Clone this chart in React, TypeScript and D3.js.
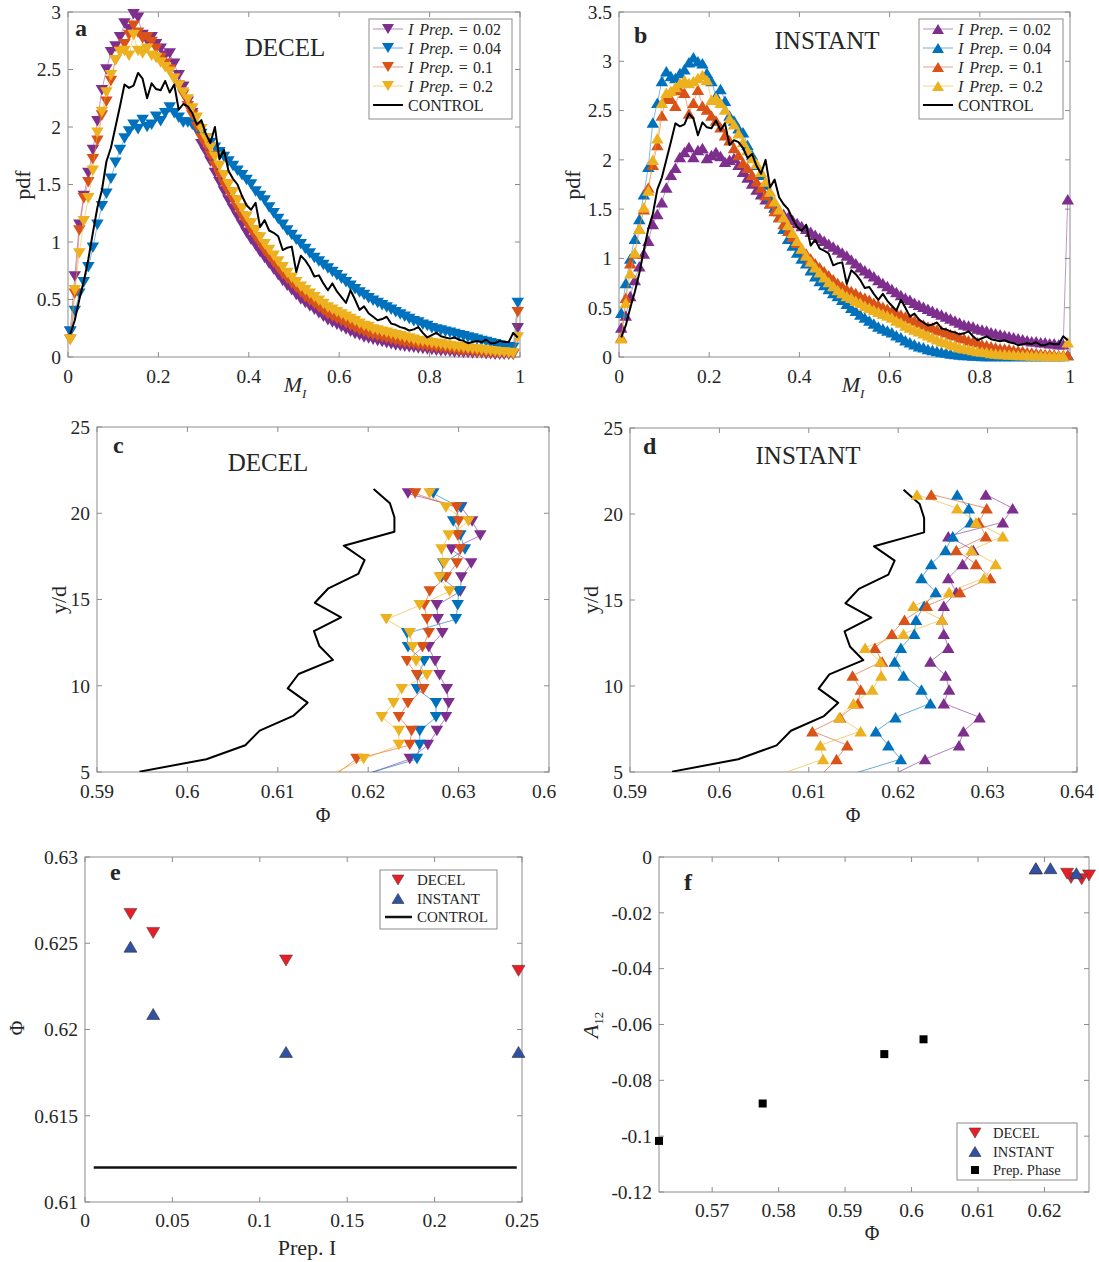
import React from "react";
import * as d3 from "d3";

// ---------------- shared styling ----------------
const FONT = "'Liberation Serif', 'Times New Roman', Times, serif";
const AXIS = "#8c8c8c";
const INK = "#262626";

// ---------------- panels a / b : pdf of M_I ----------------
// histogram bin centres on [0, 1]
const M_BINS = d3.range(100).map((i) => (i + 0.5) / 100);
const PREP_LABELS = ["0.02", "0.04", "0.1", "0.2"];
const SERIES_COLORS = ["#7E2F8E", "#0072BD", "#D95319", "#EDB120"];
const PDF_X_TICKS = [0, 0.2, 0.4, 0.6, 0.8, 1];
const PDF_A_Y_TICKS = [0, 0.5, 1, 1.5, 2, 2.5, 3];
const PDF_B_Y_TICKS = [0, 0.5, 1, 1.5, 2, 2.5, 3, 3.5];

const DECEL_PDF_002 = [
  0.22, 0.7, 1.15, 1.4, 1.6, 1.8, 2.05, 2.32, 2.5, 2.65,
  2.7, 2.78, 2.9, 2.85, 2.98, 2.95, 2.8, 2.75, 2.78, 2.72,
  2.68, 2.62, 2.64, 2.55, 2.45, 2.35, 2.22, 2.12, 1.97, 1.85,
  1.78, 1.7, 1.6, 1.52, 1.44, 1.36, 1.29, 1.22, 1.15, 1.08,
  1.02, 0.97, 0.91, 0.86, 0.81, 0.76, 0.71, 0.66, 0.62, 0.58,
  0.54, 0.5, 0.47, 0.44, 0.41, 0.38, 0.35, 0.32, 0.3, 0.28,
  0.26, 0.24, 0.22, 0.2, 0.19, 0.17, 0.16, 0.15, 0.14, 0.13,
  0.12, 0.11, 0.1, 0.095, 0.09, 0.085, 0.08, 0.075, 0.07, 0.065,
  0.06, 0.055, 0.05, 0.05, 0.045, 0.04, 0.04, 0.035, 0.035, 0.03,
  0.03, 0.03, 0.025, 0.025, 0.02, 0.02, 0.02, 0.02, 0.02, 0.25,
];
const DECEL_PDF_004 = [
  0.22, 0.4, 0.55, 0.65, 0.78, 0.95, 1.15, 1.31, 1.42, 1.55,
  1.69, 1.8, 1.9, 1.96, 2.02, 1.98, 2.06, 2.0, 2.02, 2.09,
  2.05, 2.12, 2.17, 2.12, 2.08, 2.04, 2.04, 2.02, 1.98, 1.94,
  1.9, 1.86, 1.82, 1.78, 1.74, 1.7, 1.66, 1.62, 1.58, 1.54,
  1.5, 1.44, 1.4, 1.36, 1.3, 1.25, 1.2, 1.15, 1.1, 1.06,
  1.02, 0.98, 0.94, 0.9, 0.86, 0.83, 0.8, 0.77, 0.74, 0.71,
  0.68, 0.65, 0.62, 0.59, 0.56, 0.54, 0.51, 0.49, 0.47, 0.45,
  0.43, 0.41, 0.39, 0.37, 0.35, 0.33, 0.31, 0.3, 0.28, 0.27,
  0.25, 0.24, 0.23, 0.22, 0.21, 0.2, 0.19, 0.18, 0.17, 0.16,
  0.15, 0.14, 0.13, 0.12, 0.11, 0.1, 0.09, 0.085, 0.08, 0.47,
];
const DECEL_PDF_01 = [
  0.15, 0.55, 1.1, 1.38, 1.52, 1.72, 1.88, 2.1, 2.22, 2.4,
  2.58, 2.66, 2.72, 2.8, 2.88, 2.82, 2.77, 2.78, 2.74, 2.68,
  2.6, 2.55, 2.5, 2.42, 2.36, 2.28, 2.18, 2.1, 2.0, 1.9,
  1.84, 1.75, 1.66, 1.58, 1.5, 1.43, 1.36, 1.29, 1.22, 1.16,
  1.1, 1.04, 0.98, 0.92, 0.87, 0.82, 0.77, 0.72, 0.68, 0.64,
  0.6, 0.56, 0.52, 0.49, 0.46, 0.43, 0.4, 0.37, 0.35, 0.33,
  0.31, 0.29, 0.27, 0.25, 0.23, 0.22, 0.2, 0.19, 0.18, 0.17,
  0.16, 0.15, 0.14, 0.13, 0.12, 0.115, 0.11, 0.1, 0.095, 0.09,
  0.085, 0.08, 0.075, 0.07, 0.065, 0.06, 0.055, 0.05, 0.05, 0.045,
  0.04, 0.04, 0.035, 0.035, 0.03, 0.03, 0.03, 0.025, 0.025, 0.39,
];
const DECEL_PDF_02 = [
  0.15, 0.58, 0.9, 1.18, 1.38, 1.62, 1.95, 2.13, 2.3, 2.45,
  2.58, 2.65, 2.66, 2.62, 2.8, 2.66, 2.64, 2.68, 2.62, 2.6,
  2.56, 2.52, 2.48, 2.42, 2.36, 2.3, 2.24, 2.16, 2.08, 1.98,
  1.9, 1.82, 1.74, 1.66, 1.58, 1.5, 1.43, 1.36, 1.29, 1.22,
  1.16, 1.1, 1.04, 0.98, 0.93, 0.88, 0.83, 0.78, 0.73, 0.69,
  0.65, 0.61, 0.58, 0.55, 0.52, 0.49, 0.46, 0.43, 0.41, 0.39,
  0.37, 0.35, 0.33, 0.31, 0.29, 0.27, 0.26, 0.24, 0.23, 0.22,
  0.21, 0.2, 0.19, 0.18, 0.17, 0.16, 0.15, 0.14, 0.135, 0.13,
  0.12, 0.115, 0.11, 0.1, 0.095, 0.09, 0.085, 0.08, 0.075, 0.07,
  0.065, 0.06, 0.055, 0.05, 0.045, 0.04, 0.04, 0.035, 0.03, 0.17,
];
const INSTANT_PDF_002 = [
  0.3, 0.42, 0.62, 0.78, 0.92, 1.05, 1.18, 1.35, 1.45, 1.57,
  1.72, 1.85, 1.92, 2.03, 2.08, 2.13, 2.03, 2.1, 2.12, 2.02,
  2.05, 2.08, 2.04, 1.98, 2.0, 2.02, 1.95, 1.88, 1.82, 1.76,
  1.7, 1.65, 1.6, 1.56, 1.52, 1.48, 1.45, 1.42, 1.39, 1.36,
  1.33, 1.3, 1.27, 1.24, 1.21, 1.18, 1.15, 1.12, 1.09, 1.06,
  1.03, 0.99, 0.95, 0.91, 0.88, 0.85, 0.82, 0.78, 0.75, 0.72,
  0.69, 0.66, 0.63, 0.6, 0.58, 0.55, 0.53, 0.51, 0.49, 0.47,
  0.45, 0.43, 0.41, 0.39, 0.37, 0.35, 0.33, 0.32, 0.31, 0.29,
  0.28, 0.27, 0.25, 0.24, 0.23, 0.22, 0.21, 0.2, 0.19, 0.18,
  0.17, 0.16, 0.16, 0.15, 0.15, 0.14, 0.14, 0.13, 0.13, 1.6,
];
const INSTANT_PDF_004 = [
  0.45, 0.75, 1.0, 1.2, 1.4, 1.65, 1.93, 2.38, 2.58, 2.8,
  2.9, 2.85, 2.83, 2.88, 2.92, 2.99, 3.04, 3.0, 2.98, 2.88,
  2.8, 2.65, 2.72, 2.6, 2.45, 2.4, 2.32, 2.28, 2.15, 2.05,
  1.95, 1.85, 1.75, 1.62, 1.52, 1.42, 1.3, 1.2, 1.13, 1.06,
  1.0, 0.95, 0.88, 0.82, 0.77, 0.73, 0.69, 0.65, 0.62, 0.58,
  0.54, 0.5, 0.47, 0.43, 0.4, 0.37, 0.34, 0.31, 0.29, 0.27,
  0.25, 0.22, 0.2, 0.17, 0.15, 0.13, 0.11, 0.1, 0.08, 0.07,
  0.06, 0.05, 0.045, 0.035, 0.03, 0.025, 0.02, 0.02, 0.015, 0.015,
  0.01, 0.01, 0.01, 0.01, 0.01, 0.01, 0.01, 0.01, 0.01, 0.01,
  0.01, 0.01, 0.01, 0.01, 0.01, 0.01, 0.01, 0.01, 0.01, 0.02,
];
const INSTANT_PDF_01 = [
  0.2, 0.6, 0.95, 1.05, 1.3, 1.5, 1.72, 1.95, 2.15, 2.45,
  2.63, 2.62, 2.55, 2.71, 2.68, 2.47, 2.58, 2.71, 2.55, 2.51,
  2.45, 2.4, 2.33, 2.25, 2.2, 2.12, 2.05, 1.97, 1.92, 1.85,
  1.78, 1.72, 1.64, 1.56, 1.48, 1.42, 1.35, 1.28, 1.22, 1.16,
  1.1, 1.05, 1.0, 0.95, 0.91, 0.87, 0.83, 0.79, 0.75, 0.72,
  0.69, 0.67, 0.65, 0.62, 0.6, 0.58, 0.55, 0.53, 0.51, 0.49,
  0.47, 0.45, 0.43, 0.41, 0.39, 0.37, 0.35, 0.33, 0.31, 0.3,
  0.28, 0.27, 0.25, 0.23, 0.22, 0.2, 0.19, 0.17, 0.16, 0.15,
  0.13, 0.12, 0.11, 0.1, 0.09, 0.085, 0.08, 0.07, 0.065, 0.06,
  0.05, 0.045, 0.04, 0.035, 0.03, 0.03, 0.025, 0.02, 0.02, 0.02,
];
const INSTANT_PDF_02 = [
  0.19, 0.55, 0.85, 1.06, 1.3, 1.52, 1.69, 2.0, 2.22, 2.58,
  2.68, 2.7, 2.74, 2.78, 2.81, 2.78, 2.8, 2.83, 2.86, 2.81,
  2.61, 2.63, 2.58, 2.51, 2.42, 2.36, 2.27, 2.18, 2.1, 2.02,
  1.96, 1.88, 1.78, 1.68, 1.58, 1.5, 1.42, 1.34, 1.26, 1.18,
  1.1, 1.03, 0.97, 0.91, 0.86, 0.81, 0.76, 0.72, 0.68, 0.65,
  0.62, 0.6, 0.57, 0.55, 0.52, 0.5, 0.48, 0.46, 0.44, 0.42,
  0.4, 0.37, 0.35, 0.32, 0.3, 0.28, 0.26, 0.24, 0.22, 0.2,
  0.18, 0.16, 0.15, 0.13, 0.12, 0.1, 0.09, 0.08, 0.07, 0.06,
  0.055, 0.05, 0.04, 0.035, 0.03, 0.03, 0.025, 0.025, 0.02, 0.02,
  0.02, 0.015, 0.015, 0.015, 0.01, 0.01, 0.01, 0.01, 0.01, 0.15,
];
const CONTROL_PDF = [
  0.2, 0.32, 0.5, 0.66, 0.85, 1.08, 1.3, 1.45, 1.7, 1.82,
  2.0, 2.18, 2.37, 2.34, 2.36, 2.47, 2.42, 2.25, 2.38, 2.33,
  2.32, 2.4, 2.3, 2.37, 2.15, 2.2, 2.18, 2.12, 2.02, 2.06,
  1.94, 1.86, 2.0, 1.72, 1.8, 1.62, 1.55, 1.5, 1.4, 1.32,
  1.28, 1.34, 1.13, 1.19, 1.1, 1.08, 1.05, 0.93, 0.95, 0.96,
  0.74, 0.88, 0.84, 0.78, 0.7, 0.71, 0.64, 0.58, 0.64, 0.57,
  0.52, 0.47, 0.58, 0.5, 0.41, 0.44, 0.38, 0.35, 0.32, 0.33,
  0.35, 0.29, 0.28, 0.26, 0.25, 0.23, 0.24, 0.26, 0.21, 0.17,
  0.19, 0.21, 0.18, 0.17, 0.16, 0.17, 0.15, 0.14, 0.12, 0.13,
  0.14, 0.13, 0.15, 0.12, 0.12, 0.14, 0.13, 0.13, 0.21, 0.17,
];

// ---------------- panels c / d : Phi profiles over y/d ----------------
const PHI_TICKS = [0.59, 0.6, 0.61, 0.62, 0.63, 0.64];
const YD_TICKS = [5, 10, 15, 20, 25];
const RUN_YD = [4.94, 5.75, 6.56, 7.37, 8.18, 8.99, 9.8, 10.61, 11.42, 12.23, 13.04, 13.85, 14.66, 15.47, 16.28, 17.09, 17.9, 18.71, 19.52, 20.33, 21.14];
const CONTROL_YD = [5.02, 5.74, 6.55, 7.4, 8.25, 9.02, 9.85, 10.68, 11.5, 12.3, 13.17, 13.97, 14.81, 15.65, 16.48, 17.29, 18.12, 18.93, 19.77, 20.58, 21.41];
const CONTROL_PHI = [0.5947, 0.6021, 0.6064, 0.608, 0.6117, 0.6133, 0.6111, 0.6123, 0.6161, 0.6146, 0.614, 0.617, 0.6141, 0.6156, 0.6189, 0.6196, 0.6173, 0.6229, 0.6229, 0.6224, 0.6206];

const DECEL_PHI_002 = [0.6202, 0.6246, 0.6266, 0.6276, 0.6286, 0.6289, 0.6287, 0.6279, 0.6274, 0.6267, 0.6282, 0.6277, 0.6276, 0.6302, 0.6303, 0.6314, 0.6292, 0.6324, 0.6315, 0.6303, 0.6244];
const DECEL_PHI_004 = [0.6201, 0.6254, 0.6257, 0.6257, 0.6275, 0.6275, 0.6254, 0.6255, 0.6262, 0.6244, 0.6243, 0.6297, 0.6299, 0.63, 0.6281, 0.6283, 0.6307, 0.6302, 0.6294, 0.6302, 0.6272];
const DECEL_PHI_01 = [0.6166, 0.6187, 0.6246, 0.6248, 0.6234, 0.6244, 0.6261, 0.6254, 0.6243, 0.626, 0.6267, 0.6265, 0.6262, 0.6268, 0.6286, 0.6298, 0.6302, 0.6299, 0.63, 0.6298, 0.6252];
const DECEL_PHI_02 = [0.6162, 0.6195, 0.6234, 0.6234, 0.6215, 0.6228, 0.6237, 0.6265, 0.6253, 0.6249, 0.6246, 0.622, 0.6257, 0.629, 0.6279, 0.6284, 0.6281, 0.6289, 0.6311, 0.6286, 0.6268];

const INSTANT_PHI_002 = [0.6198, 0.623, 0.6268, 0.6273, 0.6291, 0.6251, 0.6257, 0.6253, 0.6236, 0.6256, 0.6251, 0.6249, 0.6251, 0.6265, 0.6256, 0.6272, 0.6284, 0.6256, 0.6317, 0.6328, 0.6298];
const INSTANT_PHI_004 = [0.6152, 0.6203, 0.6189, 0.6175, 0.6197, 0.6236, 0.6226, 0.6206, 0.6196, 0.6203, 0.6218, 0.622, 0.6229, 0.6242, 0.6226, 0.6237, 0.6253, 0.6261, 0.6281, 0.6279, 0.6266];
const INSTANT_PHI_01 = [0.6116, 0.6131, 0.6143, 0.6104, 0.6135, 0.6155, 0.6158, 0.6149, 0.6182, 0.6174, 0.6193, 0.6207, 0.6232, 0.6269, 0.6303, 0.6287, 0.6265, 0.6298, 0.629, 0.6299, 0.6237];
const INSTANT_PHI_02 = [0.6072, 0.6116, 0.6113, 0.6158, 0.6134, 0.615, 0.6171, 0.6181, 0.618, 0.6163, 0.6206, 0.6249, 0.6217, 0.6257, 0.6296, 0.6309, 0.6282, 0.6317, 0.6287, 0.6266, 0.6221];

// ---------------- panel e : mean Phi vs preparation inertial number ----------------
const PREP_I = [0.026, 0.039, 0.115, 0.248];
const E_DECEL_PHI = [0.6267, 0.6256, 0.624, 0.6234];
const E_INSTANT_PHI = [0.6248, 0.6209, 0.6187, 0.6187];
const E_CONTROL_I = [0.005, 0.247];
const E_CONTROL_PHI = [0.612, 0.612];
const E_X_TICKS = [0, 0.05, 0.1, 0.15, 0.2, 0.25];
const E_Y_TICKS = [0.61, 0.615, 0.62, 0.625, 0.63];

// ---------------- panel f : A12 vs Phi ----------------
const F_DECEL_PHI = [0.6267, 0.6256, 0.624, 0.6234];
const F_DECEL_A = [-0.0066, -0.008, -0.0075, -0.006];
const F_INSTANT_PHI = [0.6248, 0.6209, 0.6187, 0.6187];
const F_INSTANT_A = [-0.0058, -0.004, -0.0041, -0.004];
const F_PREP_PHI = [0.562, 0.5776, 0.5959, 0.6018];
const F_PREP_A = [-0.1017, -0.0883, -0.0706, -0.0653];
const F_X_TICKS = [0.57, 0.58, 0.59, 0.6, 0.61, 0.62];
const F_Y_TICKS = [-0.12, -0.1, -0.08, -0.06, -0.04, -0.02, 0];

const RED = "#EA1C24";
const NAVY = "#3151A4";

type Scale = d3.ScaleLinear<number, number>;

const fmtTick = (v: number) => String(Math.round(v * 10000) / 10000);

function tri(cx: number, cy: number, w: number, h: number, down: boolean) {
  const hw = w / 2;
  const hh = h / 2;
  return down
    ? `M${cx - hw},${cy - hh}L${cx + hw},${cy - hh}L${cx},${cy + hh}Z`
    : `M${cx - hw},${cy + hh}L${cx + hw},${cy + hh}L${cx},${cy - hh}Z`;
}

function Frame({ x, y, xTicks, yTicks, xGap = 26 }: { x: Scale; y: Scale; xTicks: number[]; yTicks: number[]; xGap?: number }) {
  const [l, r] = x.range();
  const [b, t] = y.range();
  const tl = 5;
  return (
    <g>
      <rect x={l} y={t} width={r - l} height={b - t} fill="#fff" stroke={AXIS} strokeWidth={1} />
      {xTicks.map((v) => (
        <g key={`xt${v}`} stroke={AXIS}>
          <line x1={x(v)} x2={x(v)} y1={b} y2={b - tl} />
          <line x1={x(v)} x2={x(v)} y1={t} y2={t + tl} />
        </g>
      ))}
      {yTicks.map((v) => (
        <g key={`yt${v}`} stroke={AXIS}>
          <line x1={l} x2={l + tl} y1={y(v)} y2={y(v)} />
          <line x1={r} x2={r - tl} y1={y(v)} y2={y(v)} />
        </g>
      ))}
      <g fontSize={19.5} fill={INK} fontFamily={FONT}>
        {xTicks.map((v) => (
          <text key={`xl${v}`} x={x(v)} y={b + xGap} textAnchor="middle">
            {fmtTick(v)}
          </text>
        ))}
        {yTicks.map((v) => (
          <text key={`yl${v}`} x={l - 7} y={y(v)} dy="0.35em" textAnchor="end">
            {fmtTick(v)}
          </text>
        ))}
      </g>
    </g>
  );
}

function PrepLegendText({ x, y, label }: { x: number; y: number; label: string }) {
  return (
    <text x={x} y={y} dy="0.35em" fontSize={16} fill={INK}>
      <tspan fontStyle="italic">I</tspan>
      <tspan dx={6} fontStyle="italic">Prep.</tspan>
      <tspan dx={5}>=</tspan>
      <tspan dx={5}>{label}</tspan>
    </text>
  );
}

interface PdfProps {
  x0: number; x1: number; y0: number; y1: number;
  yMax: number; yTicks: number[];
  series: number[][]; control: number[]; down: boolean;
  letter: string; letterX: number; letterY: number;
  title: string; titleX: number; titleY: number;
  legX: number; legY: number; legW: number; legH: number;
  ylabX: number; xlabX: number;
}

function PdfPanel(p: PdfProps) {
  const x = d3.scaleLinear().domain([0, 1]).range([p.x0, p.x1]);
  const y = d3.scaleLinear().domain([0, p.yMax]).range([p.y1, p.y0]);
  const line = d3.line<number>().x((_, i) => x(M_BINS[i])).y((v) => y(v));
  const rows = [0, 1, 2, 3, 4].map((i) => p.legY + 10 + i * 19);
  return (
    <g>
      <Frame x={x} y={y} xTicks={PDF_X_TICKS} yTicks={p.yTicks} />
      {p.series.map((s, k) => (
        <g key={k}>
          <path d={line(s) || ""} fill="none" stroke={SERIES_COLORS[k]} strokeWidth={0.7} strokeOpacity={0.7} />
          {s.map((v, i) => (
            <path key={i} d={tri(x(M_BINS[i]), y(v), 12.5, 10.5, p.down)} fill={SERIES_COLORS[k]} />
          ))}
        </g>
      ))}
      <path d={line(p.control) || ""} fill="none" stroke="#000" strokeWidth={2} strokeLinejoin="round" />
      <text x={p.letterX} y={p.letterY} fontSize={24} fontWeight="bold" fill={INK}>{p.letter}</text>
      <text x={p.titleX} y={p.titleY} fontSize={25} textAnchor="middle" fill={INK}>{p.title}</text>
      <text transform={`translate(${p.ylabX},185) rotate(-90)`} fontSize={22} textAnchor="middle" dy="0.35em" fill={INK}>pdf</text>
      <text x={p.xlabX} y={392} fontSize={22} fill={INK} textAnchor="middle">
        <tspan fontStyle="italic">M</tspan>
        <tspan fontStyle="italic" fontSize={13} dy={6}>I</tspan>
      </text>
      <rect x={p.legX} y={p.legY} width={p.legW} height={p.legH} fill="#fff" stroke={AXIS} />
      {PREP_LABELS.map((lab, k) => (
        <g key={lab}>
          <line x1={p.legX + 4} x2={p.legX + 34} y1={rows[k]} y2={rows[k]} stroke={SERIES_COLORS[k]} strokeWidth={0.8} strokeOpacity={0.7} />
          <path d={tri(p.legX + 19, rows[k], 12, 10, p.down)} fill={SERIES_COLORS[k]} />
          <PrepLegendText x={p.legX + 39} y={rows[k]} label={lab} />
        </g>
      ))}
      <line x1={p.legX + 4} x2={p.legX + 34} y1={rows[4]} y2={rows[4]} stroke="#000" strokeWidth={2} />
      <text x={p.legX + 39} y={rows[4]} dy="0.35em" fontSize={16} fill={INK}>CONTROL</text>
    </g>
  );
}

interface ProfileProps {
  id: string;
  x0: number; x1: number; y0: number; y1: number;
  series: number[][]; down: boolean;
  letter: string; letterX: number; letterY: number;
  title: string; titleX: number; titleY: number;
  ylabX: number; phiX: number; clipRight?: number;
}

function ProfilePanel(p: ProfileProps) {
  const x = d3.scaleLinear().domain([0.59, 0.64]).range([p.x0, p.x1]);
  const y = d3.scaleLinear().domain([5, 25]).range([p.y1, p.y0]);
  const runLine = d3.line<number>().x((v) => x(v)).y((_, i) => y(RUN_YD[i]));
  const ctrlLine = d3.line<number>().x((v) => x(v)).y((_, i) => y(CONTROL_YD[i]));
  return (
    <g>
      <defs>
        <clipPath id={`${p.id}-plot`}>
          <rect x={p.x0} y={p.y0} width={p.x1 - p.x0} height={p.y1 - p.y0} />
        </clipPath>
        {p.clipRight !== undefined && (
          <clipPath id={`${p.id}-frame`}>
            <rect x={0} y={p.y0 - 20} width={p.clipRight} height={p.y1 - p.y0 + 80} />
          </clipPath>
        )}
      </defs>
      <g clipPath={p.clipRight !== undefined ? `url(#${p.id}-frame)` : undefined}>
        <Frame x={x} y={y} xTicks={PHI_TICKS} yTicks={YD_TICKS} />
      </g>
      <g clipPath={`url(#${p.id}-plot)`}>
        <path d={ctrlLine(CONTROL_PHI) || ""} fill="none" stroke="#000" strokeWidth={2} strokeLinejoin="round" />
        {p.series.map((s, k) => (
          <path key={k} d={runLine(s) || ""} fill="none" stroke={SERIES_COLORS[k]} strokeWidth={0.8} strokeOpacity={0.75} />
        ))}
      </g>
      {p.series.map((s, k) => (
        <g key={k} fill={SERIES_COLORS[k]}>
          {s.map((v, i) =>
            RUN_YD[i] >= 5 ? <path key={i} d={tri(x(v), y(RUN_YD[i]), 12.5, 10.5, p.down)} /> : null
          )}
        </g>
      ))}
      <text x={p.letterX} y={p.letterY} fontSize={24} fontWeight="bold" fill={INK}>{p.letter}</text>
      <text x={p.titleX} y={p.titleY} fontSize={25} textAnchor="middle" fill={INK}>{p.title}</text>
      <text transform={`translate(${p.ylabX},600) rotate(-90)`} fontSize={22} textAnchor="middle" dy="0.35em" fill={INK}>y/d</text>
      <text x={p.phiX} y={822} fontSize={20} textAnchor="middle" fill={INK}>Φ</text>
    </g>
  );
}

function PanelE() {
  const x = d3.scaleLinear().domain([0, 0.25]).range([85, 522]);
  const y = d3.scaleLinear().domain([0.61, 0.63]).range([1202, 857]);
  const ctrl = d3.line<number>().x((v) => x(v)).y((_, i) => y(E_CONTROL_PHI[i]));
  return (
    <g>
      <Frame x={x} y={y} xTicks={E_X_TICKS} yTicks={E_Y_TICKS} xGap={25} />
      {PREP_I.map((v, i) => (
        <path key={`d${i}`} d={tri(x(v), y(E_DECEL_PHI[i]), 13, 11, true)} fill={RED} stroke="#4a4a4a" strokeWidth={0.6} />
      ))}
      {PREP_I.map((v, i) => (
        <path key={`i${i}`} d={tri(x(v), y(E_INSTANT_PHI[i]), 13, 11, false)} fill={NAVY} stroke="#333" strokeWidth={0.6} />
      ))}
      <path d={ctrl(E_CONTROL_I) || ""} stroke="#111" strokeWidth={2.5} fill="none" />
      <text x={110} y={880} fontSize={24} fontWeight="bold" fill={INK}>e</text>
      <text transform="translate(17,1028) rotate(-90)" fontSize={20} textAnchor="middle" dy="0.35em" fill={INK}>Φ</text>
      <text x={307} y={1255} fontSize={22} textAnchor="middle" fill={INK}>Prep. I</text>
      <rect x={380} y={870} width={117} height={59} fill="#fff" stroke={AXIS} />
      <path d={tri(398, 880, 12, 10, true)} fill={RED} stroke="#4a4a4a" strokeWidth={0.6} />
      <path d={tri(398, 898.5, 12, 10, false)} fill={NAVY} stroke="#333" strokeWidth={0.6} />
      <line x1={385} x2={412} y1={917} y2={917} stroke="#111" strokeWidth={2.5} />
      <g fontSize={15} fill={INK}>
        <text x={417} y={880} dy="0.35em">DECEL</text>
        <text x={417} y={898.5} dy="0.35em">INSTANT</text>
        <text x={417} y={917} dy="0.35em">CONTROL</text>
      </g>
    </g>
  );
}

function PanelF() {
  const x = d3.scaleLinear().domain([0.562, 0.6267]).range([659, 1089]);
  const y = d3.scaleLinear().domain([-0.12, 0]).range([1192, 857]);
  return (
    <g>
      <Frame x={x} y={y} xTicks={F_X_TICKS} yTicks={F_Y_TICKS} xGap={25} />
      {F_DECEL_PHI.map((v, i) => (
        <path key={`d${i}`} d={tri(x(v), y(F_DECEL_A[i]), 13, 11, true)} fill={RED} stroke="#4a4a4a" strokeWidth={0.6} />
      ))}
      {F_INSTANT_PHI.map((v, i) => (
        <path key={`i${i}`} d={tri(x(v), y(F_INSTANT_A[i]), 13, 11, false)} fill={NAVY} stroke="#333" strokeWidth={0.6} />
      ))}
      {F_PREP_PHI.map((v, i) => (
        <rect key={`p${i}`} x={x(v) - 4} y={y(F_PREP_A[i]) - 4} width={8} height={8} fill="#000" />
      ))}
      <text x={684} y={890} fontSize={24} fontWeight="bold" fill={INK}>f</text>
      <text transform="translate(598,1025) rotate(-90)" fontSize={22} textAnchor="middle" fill={INK}>
        <tspan fontStyle="italic">A</tspan>
        <tspan fontSize={13} dy={5}>12</tspan>
      </text>
      <text x={872} y={1240} fontSize={20} textAnchor="middle" fill={INK}>Φ</text>
      <rect x={957} y={1123} width={120} height={57} fill="#fff" stroke={AXIS} />
      <path d={tri(975, 1133, 12, 10, true)} fill={RED} stroke="#4a4a4a" strokeWidth={0.6} />
      <path d={tri(975, 1151.5, 12, 10, false)} fill={NAVY} stroke="#333" strokeWidth={0.6} />
      <rect x={971} y={1166} width={8} height={8} fill="#000" />
      <g fontSize={14.5} fill={INK}>
        <text x={993} y={1133} dy="0.35em">DECEL</text>
        <text x={993} y={1151.5} dy="0.35em">INSTANT</text>
        <text x={993} y={1170} dy="0.35em">Prep. Phase</text>
      </g>
    </g>
  );
}

export default function App() {
  return (
    <svg
      width={1099}
      height={1262}
      viewBox="0 0 1099 1262"
      style={{ position: "absolute", left: 0, top: 0, display: "block" }}
      fontFamily={FONT}
    >
      <rect width={1099} height={1262} fill="#fff" />
      <PdfPanel
        x0={68} x1={520} y0={12} y1={357} yMax={3} yTicks={PDF_A_Y_TICKS}
        series={[DECEL_PDF_002, DECEL_PDF_004, DECEL_PDF_01, DECEL_PDF_02]}
        control={CONTROL_PDF} down={true}
        letter="a" letterX={75} letterY={36}
        title="DECEL" titleX={285} titleY={56}
        legX={369} legY={19} legW={143} legH={100}
        ylabX={22} xlabX={295}
      />
      <PdfPanel
        x0={619} x1={1070} y0={12} y1={357} yMax={3.5} yTicks={PDF_B_Y_TICKS}
        series={[INSTANT_PDF_002, INSTANT_PDF_004, INSTANT_PDF_01, INSTANT_PDF_02]}
        control={CONTROL_PDF} down={false}
        letter="b" letterX={634} letterY={43}
        title="INSTANT" titleX={827} titleY={49}
        legX={919} legY={19} legW={144} legH={100}
        ylabX={572} xlabX={853}
      />
      <ProfilePanel
        id="pc" x0={97} x1={549} y0={427} y1={772}
        series={[DECEL_PHI_002, DECEL_PHI_004, DECEL_PHI_01, DECEL_PHI_02]} down={true}
        letter="c" letterX={113} letterY={453}
        title="DECEL" titleX={268} titleY={471}
        ylabX={58} phiX={323} clipRight={556}
      />
      <ProfilePanel
        id="pd" x0={630} x1={1077} y0={428} y1={772}
        series={[INSTANT_PHI_002, INSTANT_PHI_004, INSTANT_PHI_01, INSTANT_PHI_02]} down={false}
        letter="d" letterX={643} letterY={454}
        title="INSTANT" titleX={808} titleY={464}
        ylabX={590} phiX={853}
      />
      <PanelE />
      <PanelF />
    </svg>
  );
}
